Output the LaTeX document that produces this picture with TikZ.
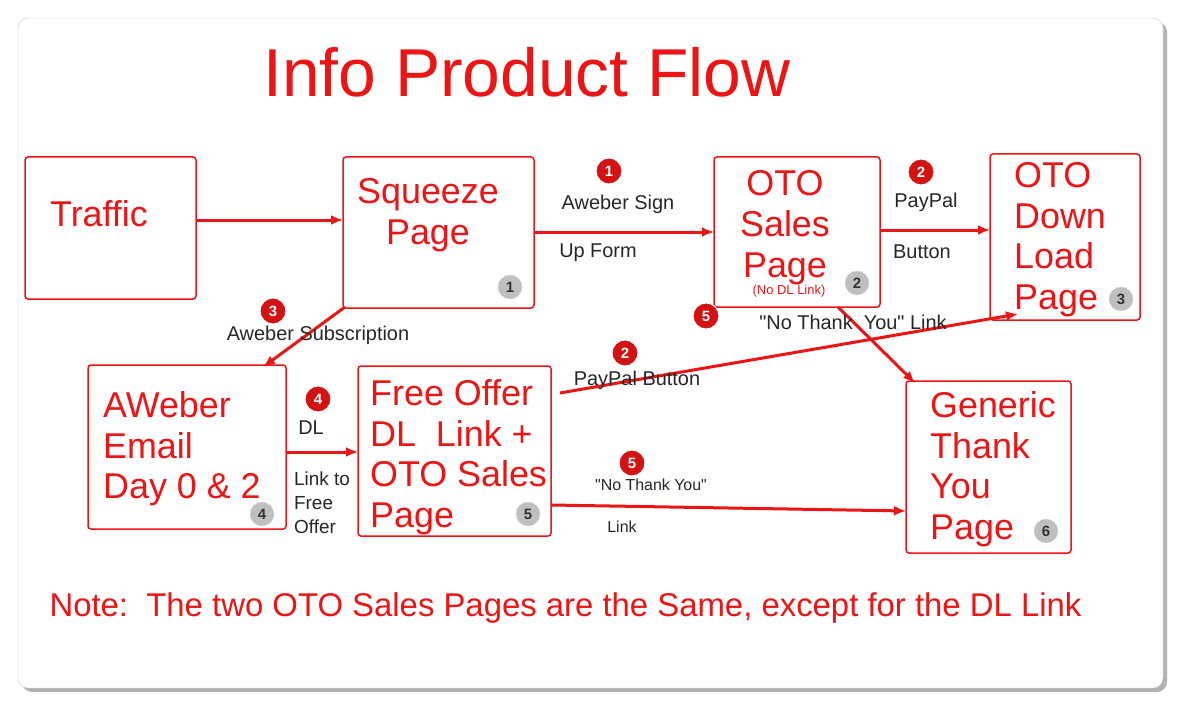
\documentclass[tikz,border=0pt]{standalone}
\usepackage{fontspec}
\setmainfont{Liberation Sans}
\definecolor{rd}{RGB}{236,20,20}
\begin{document}
\begin{tikzpicture}[x=1bp,y=-1bp,
 box/.style={draw=rd,line width=1.5bp,fill=white,rounded corners=3bp,inner sep=0pt},
 big/.style={text=rd,font=\fontsize{36}{41}\selectfont,align=left,anchor=north west,inner sep=0pt},
 arr/.style={draw=rd,line width=3bp,-{Latex[length=12bp,width=10bp]}},
 gb/.style={circle,fill=black!25,draw=black!15,minimum size=24bp,inner sep=0pt,font=\fontsize{15}{15}\selectfont\bfseries,text=black!80},
 rb/.style={circle,fill=rd!90!black,draw=white,line width=1bp,minimum size=26bp,inner sep=0pt,font=\fontsize{15}{15}\selectfont\bfseries,text=white},
 lb/.style={font=\fontsize{20}{24}\selectfont,text=black!85,inner sep=1bp}]
\usetikzlibrary{arrows.meta}
\useasboundingbox (0,0) rectangle (1179,705);
\fill[black!30,rounded corners=10bp] (22,22) rectangle (1167,692);
\fill[white,draw=black!20,rounded corners=10bp] (18,18) rectangle (1163,688);
\node[text=rd,font=\fontsize{68}{72}\selectfont] (title) at (527,72) {Info Product Flow};
% boxes
\draw[box] (25,157) rectangle (196,299); \node[big] (traffic) at (50,200) {Traffic};
\draw[box] (343,157) rectangle (534,308);
\node[big,anchor=center,align=center] (sq) at (428,215) {Squeeze\\Page};
\node[gb] (b1) at (510,287) {1};
\draw[box] (714,157) rectangle (880,307);
\node[big,anchor=center,align=center] (oto) at (785,228) {OTO\\Sales\\Page};
\node[text=rd,font=\fontsize{13}{13}\selectfont] (nodl) at (789,291) {(No DL Link)};
\node[gb] (b2) at (857,283) {2};
\draw[box] (990,154) rectangle (1140,320);
\node[big] (dl) at (1014,162) {OTO\\Down\\Load\\Page};
\node[gb] (b3) at (1121,299) {3};
\draw[box] (88,365) rectangle (286,529);
\node[big] (aw) at (103,391) {AWeber\\Email\\Day 0 \& 2};
\node[gb] (b4) at (262,514) {4};
\draw[box] (358,366) rectangle (551,536);
\node[big] (fo) at (370,379) {Free Offer\\DL\ \ Link +\\OTO Sales\\Page};
\node[gb] (b5) at (528,514) {5};
\draw[box] (906,381) rectangle (1071,553);
\node[big] (gen) at (930,391) {Generic\\Thank\\You\\Page};
\node[gb] (b6) at (1046,531) {6};
% arrows
\coordinate (a1) at (196,220); \coordinate (a2) at (343,220);
\draw[arr] (a1) -- (a2);
\coordinate (c1) at (534,232); \coordinate (c2) at (714,232);
\draw[arr] (c1) -- (c2);
\node[rb] (r1) at (609,171) {1};
\node[lb] (l1) at (618,204) {Aweber Sign};
\node[lb] (l1b) at (598,253) {Up Form};
\coordinate (d1) at (880,230); \coordinate (d2) at (990,230);
\draw[arr] (d1) -- (d2);
\node[rb] (r2) at (921,172) {2};
\node[lb] (l2) at (926,202) {PayPal};
\node[lb] (l2b) at (922,252) {Button};
\coordinate (e1) at (345,307); \coordinate (e2) at (263,367);
\draw[arr] (e1) -- (e2);
\node[rb] (r3) at (273,311) {3};
\node[lb] (l3) at (318,335) {Aweber Subscription};
\coordinate (f1) at (286,452); \coordinate (f2) at (358,452);
\draw[arr] (f1) -- (f2);
\node[rb] (r4) at (318,399) {4};
\node[lb] (l4) at (311,428) {DL};
\node[lb,align=left,font=\fontsize{19}{24}\selectfont] (l4b) at (322,503) {Link to\\Free\\Offer};
\coordinate (g1) at (560,393); \coordinate (g2) at (1018,314);
\draw[arr] (g1) -- (g2);
\node[rb] (r5) at (625,353) {2};
\node[lb] (l5) at (637,380) {PayPal Button};
\coordinate (h1) at (551,505); \coordinate (h2) at (906,511);
\draw[arr] (h1) -- (h2);
\node[rb] (r6) at (632,463) {5};
\node[lb,font=\fontsize{16}{18}\selectfont] (l6) at (651,485) {\textquotedbl No Thank You\textquotedbl};
\node[lb,font=\fontsize{16}{18}\selectfont] (l6b) at (622,527) {Link};
\coordinate (k1) at (838,307); \coordinate (k2) at (915,383);
\draw[arr] (k1) -- (k2);
\node[rb] (r7) at (706,316) {5};
\node[lb] (l7) at (853,322) {\textquotedbl No Thank\ \ You\textquotedbl\ Link};
\node[text=rd,font=\fontsize{33}{36}\selectfont,anchor=west] (note) at (46,608) {Note:\ \ The two OTO Sales Pages are the Same, except for the DL Link};
\end{tikzpicture}
\end{document}
